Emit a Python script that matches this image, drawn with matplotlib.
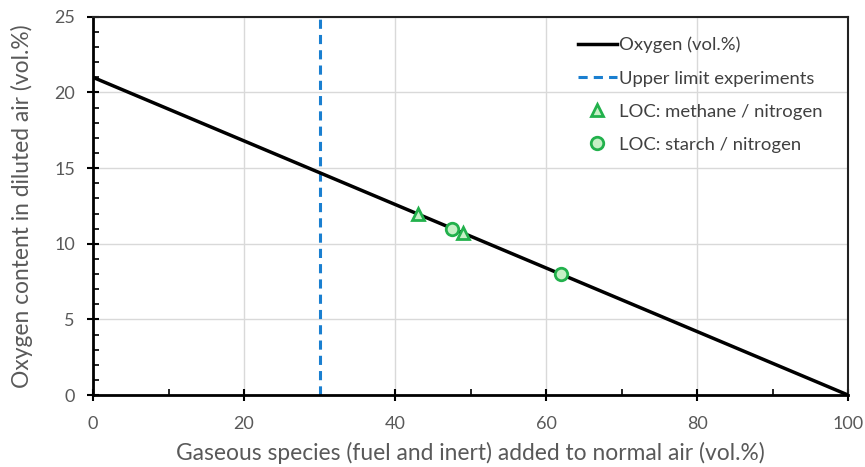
import matplotlib.pyplot as plt
from matplotlib.ticker import MultipleLocator

# oxygen left in air when a gas is mixed in
added = [0, 100]
oxygen = [21, 0]

limit_x = 30

# limiting oxygen concentration points
methane_x = [43, 49]
methane_y = [12, 10.7]
starch_x = [47.5, 62]
starch_y = [11, 8]

plt.rcParams['font.family'] = ['Lato', 'DejaVu Sans']
txt = '#595959'

fig = plt.figure(figsize=(8.65, 4.67), dpi=100)
ax = fig.add_axes([0.1075, 0.154, 0.873, 0.810])

ax.plot(added, oxygen, color='black', lw=2.5, label='Oxygen (vol.%)', zorder=3)
ax.axvline(limit_x, color='#1a7fd0', lw=2.2, ls=(0, (3, 2)),
           label='Upper limit experiments', zorder=2)
ax.plot(methane_x, methane_y, ls='none', marker='^', ms=9, mfc='#c6f0c6',
        mec='#22b14c', mew=2, label='LOC: methane / nitrogen', zorder=4)
ax.plot(starch_x, starch_y, ls='none', marker='o', ms=9, mfc='#c6f0c6',
        mec='#22b14c', mew=2, label='LOC: starch / nitrogen', zorder=4)

ax.set_xlim(0, 100)
ax.set_ylim(0, 25)
ax.xaxis.set_major_locator(MultipleLocator(20))
ax.xaxis.set_minor_locator(MultipleLocator(10))
ax.yaxis.set_major_locator(MultipleLocator(5))
ax.yaxis.set_minor_locator(MultipleLocator(1))
ax.grid(True, which='major', color='#d9d9d9', lw=1)
ax.set_axisbelow(True)

ax.tick_params(which='major', direction='inout', length=8, width=1.5,
               colors='black', labelcolor=txt, labelsize=13)
ax.tick_params(axis='x', which='major', pad=11)
ax.tick_params(axis='y', which='major', pad=9)
ax.tick_params(which='minor', direction='in', length=4, width=1.2, colors='black')

for side in ['left', 'bottom']:
    ax.spines[side].set_linewidth(2)
for side in ['top', 'right']:
    ax.spines[side].set_linewidth(1.5)
    ax.spines[side].set_color('#222222')

ax.set_xlabel('Gaseous species (fuel and inert) added to normal air (vol.%)',
              color=txt, fontsize=16.4, va='center')
ax.set_ylabel('Oxygen content in diluted air (vol.%)', color=txt, fontsize=16.4,
              va='center')
ax.xaxis.set_label_coords(0.5, -0.153)
ax.yaxis.set_label_coords(-0.094, 0.5)

leg = ax.legend(loc='upper left', frameon=False, fontsize=13.3,
                handlelength=2.1, handletextpad=0.15, labelspacing=0.93,
                borderpad=0, borderaxespad=0, bbox_to_anchor=(0.642, 0.947))
for t in leg.get_texts():
    t.set_color('#404040')

fig.savefig('out.png', dpi=100)
